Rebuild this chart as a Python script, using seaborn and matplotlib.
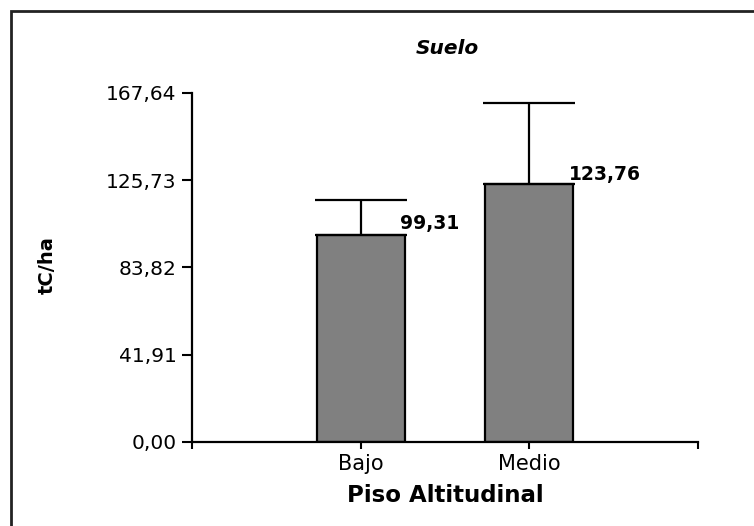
import matplotlib
matplotlib.use("Agg")
import matplotlib.pyplot as plt
import seaborn as sns
import pandas as pd
from matplotlib.patches import Rectangle

# datos
pisos = ["Bajo", "Medio"]
carbono = [99.31, 123.76]
error_sup = [16.9, 39.3]
etiquetas = ["99,31", "123,76"]
yticks = [0.00, 41.91, 83.82, 125.73, 167.64]
ytick_labels = ["0,00", "41,91", "83,82", "125,73", "167,64"]


def main():
    sns.set_style("white")
    plt.rcParams["font.family"] = ["DejaVu Sans"]
    for k in ["text.color", "axes.labelcolor", "xtick.color", "ytick.color"]:
        plt.rcParams[k] = "black"

    df = pd.DataFrame({"piso": pisos, "tC": carbono})

    fig = plt.figure(figsize=(7.54, 5.26), dpi=100)
    ax = fig.add_axes([192 / 754, 1 - 441.7 / 526, 506 / 754, 348.7 / 526])

    sns.barplot(data=df, x="piso", y="tC", color="#808080", saturation=1,
                width=0.52, edgecolor="black", linewidth=1.6, errorbar=None, ax=ax)

    # barras de error (solo hacia arriba)
    ax.errorbar([0, 1], carbono, yerr=[[0, 0], error_sup], fmt="none",
                ecolor="black", elinewidth=1.6, capsize=33, capthick=1.6, zorder=1)

    for i, (v, t) in enumerate(zip(carbono, etiquetas)):
        ax.text(i + 0.235, v + (5.4 if i == 0 else 4.9), t, ha="left", va="center",
                fontsize=13.5, fontweight="bold")

    ax.set_xlim(-1, 2)
    ax.set_xticks([-1, 0, 1, 2])
    ax.set_xticklabels(["", "Bajo", "Medio", ""], fontsize=15)
    ax.set_ylim(0, 167.64)
    ax.set_yticks(yticks)
    ax.set_yticklabels(ytick_labels, fontsize=14.5)
    ax.tick_params(axis="y", length=7, width=1.5, pad=4, left=True)
    ax.tick_params(axis="x", length=5, width=1.5, pad=4, bottom=True)
    ax.set_xlabel("")
    ax.set_ylabel("")

    for s in ["top", "right"]:
        ax.spines[s].set_visible(False)
    for s in ["left", "bottom"]:
        ax.spines[s].set_linewidth(1.6)
        ax.spines[s].set_color("black")

    fig.text(447 / 754, 1 - 48 / 526, "Suelo", ha="center", va="center",
             fontsize=14.5, fontweight="bold", fontstyle="italic")
    fig.text(47 / 754, 1 - 265 / 526, "tC/ha", ha="center", va="center",
             rotation=90, fontsize=14, fontweight="bold")
    fig.text(445 / 754, 1 - 496 / 526, "Piso Altitudinal", ha="center", va="center",
             fontsize=16.5, fontweight="bold")

    # marco exterior
    fig.patches.append(Rectangle((11 / 754, -0.05), 1.2, 1 - 11 / 526 + 0.05,
                                 transform=fig.transFigure, fill=False,
                                 edgecolor="#222222", linewidth=2))

    fig.savefig("out.png", dpi=100)


if __name__ == "__main__":
    main()
